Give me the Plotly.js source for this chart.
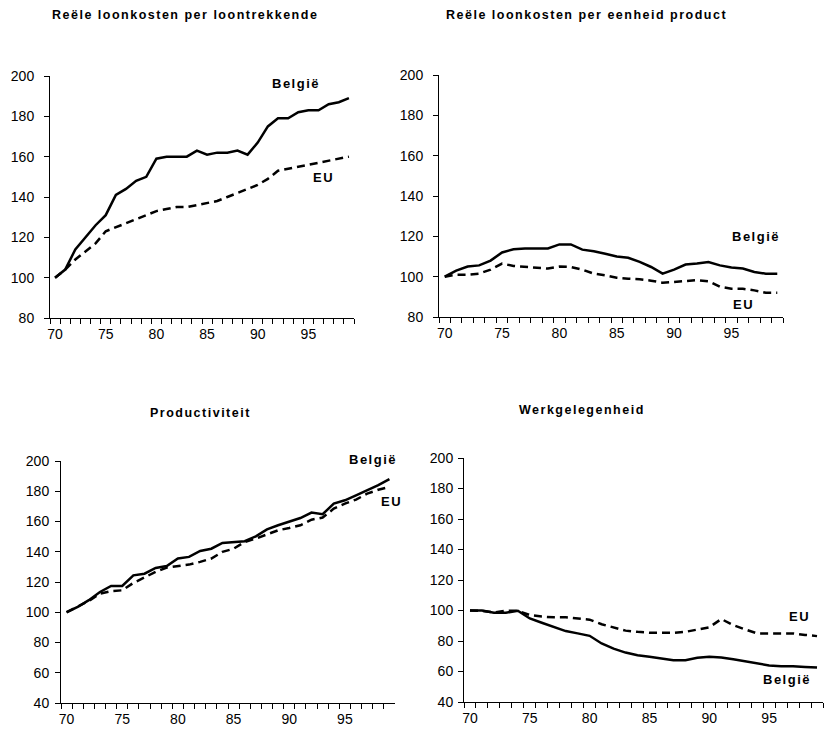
<!DOCTYPE html>
<html>
<head>
<meta charset="utf-8">
<script src="https://cdn.plot.ly/plotly-3.0.1.min.js"></script>
<style>
html,body{margin:0;padding:0;background:#fff;}
#chart{width:825px;height:731px;}
.annotation-text{letter-spacing:1.5px;}
</style>
</head>
<body>
<div id="chart"></div>
<script>
// ---- data ----
const years = [70,71,72,73,74,75,76,77,78,79,80,81,82,83,84,85,86,87,88,89,90,91,92,93,94,95,96,97,98,99];

const wageBE = [100,104,114,120,126,131,141,144,148,150,159,160,160,160,163,161,162,162,163,161,167,175,179,179,182,183,183,186,187,189];
const wageEU = [100,104,109,113,117,123,125,127,129,131,133,134,135,135,136,137,138,140,142,144,146,149,153,154,155,156,157,158,159,160];

const ulcBE = [100,103,105,105.6,108,112,113.6,114,114,114,116,116,113.4,112.6,111.4,110,109.4,107.3,104.8,101.5,103.5,106,106.5,107.3,105.6,104.5,104,102.3,101.5,101.5];
const ulcEU = [100,101,101,101.5,103.5,106.5,105.3,104.8,104.5,104,105,104.8,103.5,101.5,100.7,99.5,99,98.7,98,97,97.4,98,98.3,97.7,95,94,94,93.2,92,92];

const prodBE = [100,103.5,108,113.4,117.4,117.4,124.4,125.5,129.3,130.6,135.5,136.6,140.5,142,145.8,146.5,147,150.2,154.8,157.5,160,162.3,165.9,164.8,171.8,174,177.3,180.6,184,188];
const prodEU = [100,103.5,107.5,112.3,114,114.5,119.4,123,126.7,129.5,130.6,131.5,133.3,135.5,139.9,142,146.5,148.7,151.5,154.2,155.7,157.5,161.2,162.6,168.5,171.8,174.5,178.4,181,182.8];

const empBE = [100,100,98.5,98.5,99.8,94.8,92,89.3,86.5,85,83.4,78.4,75,72.4,70.7,69.6,68.5,67.4,67.4,69,69.6,69.2,68,66.7,65.2,64,63.5,63.5,63,62.6];
const empEU = [100,99.8,98.7,99.8,99.8,97,96,95.5,95.5,95,94,91,88.8,86.8,86,85.4,85.4,85.4,86,87.6,89,94.4,90.4,87.6,85,85,85,85,84,83.2];

const panelTitles = ["Reële loonkosten per loontrekkende","Reële loonkosten per eenheid product","Productiviteit","Werkgelegenheid"];
const seriesNames = ["België","EU"];
const yTicksTop = [80,100,120,140,160,180,200];
const yTicksBottom = [40,60,80,100,120,140,160,180,200];

// ---- layout helpers ----
const W = 825, H = 731;
const px = x => x / W;
const py = y => 1 - y / H;

const cats = years.map(String);
const tickText = years.map(y => (y % 5 === 0 ? String(y) : ''));

const tickFont = {family: 'Liberation Sans, Arial, sans-serif', size: 14, color: '#000'};
const lblFont = {family: 'Liberation Sans, Arial, sans-serif', size: 13, color: '#000', weight: 'bold'};
const ttlFont = {family: 'Liberation Sans, Arial, sans-serif', size: 12.5, color: '#000', weight: 'bold'};

function xAx(domain, anchor) {
  return {
    domain: domain, anchor: anchor, type: 'category',
    range: [-0.5, years.length - 0.5],
    tickmode: 'array', tickvals: cats, ticktext: tickText, tickangle: 0,
    tickson: 'boundaries', ticks: 'outside', ticklen: 5, tickwidth: 1, tickcolor: '#000',
    ticklabelstandoff: 3,
    showline: true, linecolor: '#000', linewidth: 1,
    showgrid: false, zeroline: false, tickfont: tickFont, fixedrange: true
  };
}
function yAx(domain, anchor, ticks, standoff) {
  return {
    domain: domain, anchor: anchor,
    range: [ticks[0], ticks[ticks.length - 1]],
    tickmode: 'array', tickvals: ticks,
    ticks: 'outside', ticklen: 5, tickwidth: 1, tickcolor: '#000',
    ticklabelstandoff: standoff,
    showline: true, linecolor: '#000', linewidth: 1,
    showgrid: false, zeroline: false, tickfont: tickFont, fixedrange: true
  };
}

const solid = {color: '#000', width: 2.5};
const dashed = {color: '#000', width: 2.5, dash: '8px,5px'};

function pair(be, eu, xa, ya) {
  return [
    {x: cats, y: eu, type: 'scatter', mode: 'lines', line: dashed, xaxis: xa, yaxis: ya, name: seriesNames[1], hoverinfo: 'skip'},
    {x: cats, y: be, type: 'scatter', mode: 'lines', line: solid, xaxis: xa, yaxis: ya, name: seriesNames[0], hoverinfo: 'skip'}
  ];
}

const data = [].concat(
  pair(wageBE, wageEU, 'x', 'y'),
  pair(ulcBE, ulcEU, 'x2', 'y2'),
  pair(prodBE, prodEU, 'x3', 'y3'),
  pair(empBE, empEU, 'x4', 'y4')
);

function ann(text, x, y, font, anchor) {
  return {text: text, xref: 'paper', yref: 'paper', x: px(x), y: py(y),
          xanchor: anchor || 'center', yanchor: 'middle', showarrow: false, font: font};
}

const layout = {
  width: W, height: H, autosize: false,
  margin: {l: 0, r: 0, t: 0, b: 0},
  paper_bgcolor: '#fff', plot_bgcolor: 'rgba(0,0,0,0)',
  showlegend: false,
  xaxis:  xAx([px(50),  px(354)], 'y'),
  yaxis:  yAx([py(318), py(76)],  'x', yTicksTop, 7),
  xaxis2: xAx([px(439), px(783)], 'y2'),
  yaxis2: yAx([py(317), py(75)],  'x2', yTicksTop, 7),
  xaxis3: xAx([px(61),  px(395)], 'y3'),
  yaxis3: yAx([py(703), py(461)], 'x3', yTicksBottom, 3),
  xaxis4: xAx([px(464), px(823)], 'y4'),
  yaxis4: yAx([py(702), py(458)], 'x4', yTicksBottom, 2),
  annotations: [
    ann(panelTitles[0], 185, 15, ttlFont),
    ann(panelTitles[1], 586, 15, ttlFont),
    ann(panelTitles[2], 200, 413, ttlFont),
    ann(panelTitles[3], 582, 410, ttlFont),
    ann(seriesNames[0], 296, 84, lblFont),
    ann(seriesNames[1], 323, 177, lblFont),
    ann(seriesNames[0], 756, 236, lblFont),
    ann(seriesNames[1], 743, 304, lblFont),
    ann(seriesNames[0], 373, 459, lblFont),
    ann(seriesNames[1], 391, 501, lblFont),
    ann(seriesNames[1], 799, 616, lblFont),
    ann(seriesNames[0], 787, 679, lblFont)
  ]
};

Plotly.newPlot('chart', data, layout, {displayModeBar: false, staticPlot: true});
</script>
</body>
</html>
